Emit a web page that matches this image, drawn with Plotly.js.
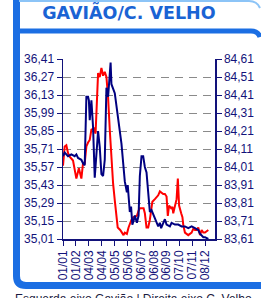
<!DOCTYPE html>
<html>
<head>
<meta charset="utf-8">
<script src="https://cdn.plot.ly/plotly-3.0.1.min.js"></script>
<style>
html,body{margin:0;padding:0;background:#fff;}
#chart{width:261px;height:298px;}
</style>
</head>
<body>
<div id="chart"></div>
<script>
// ---- data ----
const chartTitle = 'GAVIÃO/C. VELHO';
const footNote = 'Esquerda eixo Gavião | Direita eixo C. Velho';

// Gavião (left axis, red)
const gaviaoDates = ['2011-01-01','2011-01-05','2011-01-09','2011-01-13','2011-01-17','2011-01-25','2011-02-02','2011-02-08','2011-02-14','2011-02-18','2011-02-22','2011-02-26','2011-03-02','2011-03-06','2011-03-10','2011-03-16','2011-03-20','2011-03-22','2011-03-26','2011-03-30','2011-04-03','2011-04-07','2011-04-11','2011-04-15','2011-04-19','2011-04-23','2011-04-27','2011-05-01','2011-05-05','2011-05-07','2011-05-12','2011-05-18','2011-05-26','2011-05-29','2011-06-03','2011-06-07','2011-06-14','2011-06-19','2011-06-27','2011-07-01','2011-07-04','2011-07-13','2011-07-16','2011-07-20','2011-07-24','2011-07-28','2011-07-31','2011-08-03','2011-08-09','2011-08-17','2011-08-21','2011-08-29','2011-09-02','2011-09-06','2011-09-09','2011-09-12','2011-09-17','2011-09-20','2011-09-22','2011-09-26','2011-09-30','2011-10-03','2011-10-06','2011-10-11','2011-10-14','2011-10-16','2011-10-20','2011-10-28','2011-11-05','2011-11-09','2011-11-13','2011-11-17','2011-11-21','2011-11-25','2011-11-29','2011-12-03','2011-12-07','2011-12-15'];
const gaviaoValues = [35.58,35.73,35.74,35.68,35.65,35.62,35.48,35.56,35.48,35.60,35.60,35.73,35.76,35.78,35.86,35.87,35.83,36.01,36.30,36.27,36.34,36.28,36.31,36.27,36.11,35.86,35.62,35.44,35.31,35.23,35.10,35.08,35.04,35.06,35.05,35.10,35.16,35.18,35.19,35.23,35.25,35.25,35.21,35.10,35.10,35.16,35.25,35.30,35.32,35.35,35.38,35.36,35.36,35.34,35.19,35.27,35.25,35.26,35.21,35.27,35.32,35.48,35.27,35.21,35.18,35.12,35.06,35.04,35.06,35.09,35.08,35.08,35.10,35.04,35.08,35.06,35.06,35.08];

// C. Velho (right axis, navy)
const velhoDates = ['2011-01-01','2011-01-05','2011-01-13','2011-01-21','2011-01-29','2011-02-02','2011-02-06','2011-02-14','2011-02-18','2011-02-22','2011-02-26','2011-03-02','2011-03-04','2011-03-06','2011-03-10','2011-03-14','2011-03-18','2011-03-22','2011-03-26','2011-03-30','2011-04-03','2011-04-07','2011-04-11','2011-04-15','2011-04-19','2011-04-25','2011-04-27','2011-05-05','2011-05-21','2011-05-29','2011-06-03','2011-06-05','2011-06-08','2011-06-10','2011-06-13','2011-06-16','2011-06-19','2011-06-22','2011-06-27','2011-07-01','2011-07-04','2011-07-08','2011-07-12','2011-07-16','2011-07-20','2011-07-24','2011-07-28','2011-08-01','2011-08-06','2011-08-09','2011-08-17','2011-08-21','2011-08-24','2011-09-02','2011-09-06','2011-09-14','2011-09-18','2011-09-26','2011-10-04','2011-10-12','2011-10-20','2011-10-28','2011-11-05','2011-11-13','2011-11-21','2011-11-25','2011-11-29','2011-12-03','2011-12-07','2011-12-15'];
const velhoValues = [84.07,84.09,84.07,84.08,84.07,84.08,84.06,84.05,84.03,84.02,84.40,84.40,84.38,84.27,84.38,84.23,83.95,84.10,84.21,84.12,83.97,83.96,84.05,84.45,84.40,84.59,84.47,84.42,84.14,83.93,83.87,83.91,83.81,83.76,83.79,83.69,83.71,83.74,83.70,83.74,83.96,84.07,84.07,84.01,83.98,83.88,83.76,83.77,83.74,83.72,83.68,83.70,83.67,83.72,83.69,83.68,83.70,83.69,83.69,83.68,83.68,83.67,83.68,83.67,83.66,83.64,83.63,83.62,83.62,83.61];

// axis ticks
const leftTicks = [35.01,35.15,35.29,35.43,35.57,35.71,35.85,35.99,36.13,36.27,36.41];
const rightTicks = [83.61,83.71,83.81,83.91,84.01,84.11,84.21,84.31,84.41,84.51,84.61];
const xTickDates = ['2011-01-01','2011-02-01','2011-03-04','2011-04-04','2011-05-05','2011-06-05','2011-07-06','2011-08-06','2011-09-06','2011-10-07','2011-11-07','2011-12-08'];
const xTickLabels = ['01/01','01/02','04/03','04/04','05/05','05/06','06/07','06/08','06/09','07/10','07/11','08/12'];

// ---- layout geometry (pixels) ----
const Wd = 261, Ht = 298;
const L = 63, R = 215, T = 59, B = 239;
const PW = R - L, PH = B - T;
const X = p => ((p - L) / PW).toFixed(4);
const Y = p => ((B - p) / PH).toFixed(4);

const navy = '#12127a';
const blue = '#1b6ee3';
const lightBlue = '#8cc4f7';

const frameLeftBottom = `M ${X(16.5)} ${Y(-2)} L ${X(16.5)} ${Y(276)} Q ${X(16.5)} ${Y(285.5)} ${X(26)} ${Y(285.5)} L ${X(262)} ${Y(285.5)}`;
const frameTopBar = `M ${X(18)} ${Y(31)} L ${X(251)} ${Y(31)} Q ${X(258)} ${Y(31)} ${X(260)} ${Y(37)}`;
const frameTopLine = `M ${X(19)} ${Y(1)} L ${X(249)} ${Y(1)} Q ${X(257)} ${Y(1)} ${X(260)} ${Y(8)}`;

const shapes = [
  {type:'path', xref:'paper', yref:'paper', path: frameLeftBottom, line:{color:blue, width:7}, layer:'above'},
  {type:'path', xref:'paper', yref:'paper', path: frameTopBar, line:{color:blue, width:5}, layer:'above'},
  {type:'path', xref:'paper', yref:'paper', path: frameTopLine, line:{color:lightBlue, width:2}, layer:'above'}
];

const traces = [
  {x: velhoDates, y: velhoValues, yaxis:'y2', type:'scatter', mode:'lines',
   line:{color:'#000080', width:2}, name:'C. Velho'},
  {x: gaviaoDates, y: gaviaoValues, yaxis:'y', type:'scatter', mode:'lines',
   line:{color:'#ff0000', width:2}, name:'Gavião'}
];

const tickFont = {family:'"Liberation Sans", Arial, sans-serif', size:12, color:navy};

const layout = {
  width: Wd, height: Ht,
  margin: {l: L, r: Wd - R, t: T, b: Ht - B, pad: 0},
  paper_bgcolor:'#ffffff', plot_bgcolor:'#ffffff',
  showlegend:false,
  separators: ',.',
  title: {text: chartTitle, xref:'container', yref:'container', x: 0.494, y: 1 - 13/Ht,
          xanchor:'center', yanchor:'middle',
          font:{family:'"DejaVu Sans", Verdana, sans-serif', size:17.5, color:'#1a63d4', weight:'bold'}},
  xaxis: {type:'date', range:['2011-01-01','2011-12-31'], tickvals: xTickDates, ticktext: xTickLabels,
          tickangle:-90, tickfont: tickFont, showgrid:false, zeroline:false,
          showline:true, linecolor:navy, linewidth:1.5, ticks:'outside', ticklen:5, tickcolor:navy, fixedrange:true},
  yaxis: {range:[35.01,36.41], tickvals:leftTicks, tickformat:'.2f', tickfont:tickFont,
          showline:true, linecolor:navy, linewidth:1.5, ticks:'outside', ticklen:5, tickcolor:navy,
          showgrid:true, gridcolor:'#8a8a8a', gridwidth:1, griddash:'8px,6px', zeroline:false},
  yaxis2: {range:[83.61,84.61], tickvals:rightTicks, tickformat:'.2f', tickfont:tickFont, overlaying:'y', side:'right',
           showline:true, linecolor:navy, linewidth:1.5, ticks:'outside', ticklen:5, tickcolor:navy,
           showgrid:false, zeroline:false},
  shapes: shapes,
  annotations: [
    {text: footNote, xref:'paper', yref:'paper', x: X(13), y: Y(290), xanchor:'left', yanchor:'top',
     showarrow:false, font:{family:'"Liberation Sans", Arial, sans-serif', size:12, color:'#1a1a40'}}
  ]
};

Plotly.newPlot('chart', traces, layout, {staticPlot:true, displayModeBar:false});
</script>
</body>
</html>
